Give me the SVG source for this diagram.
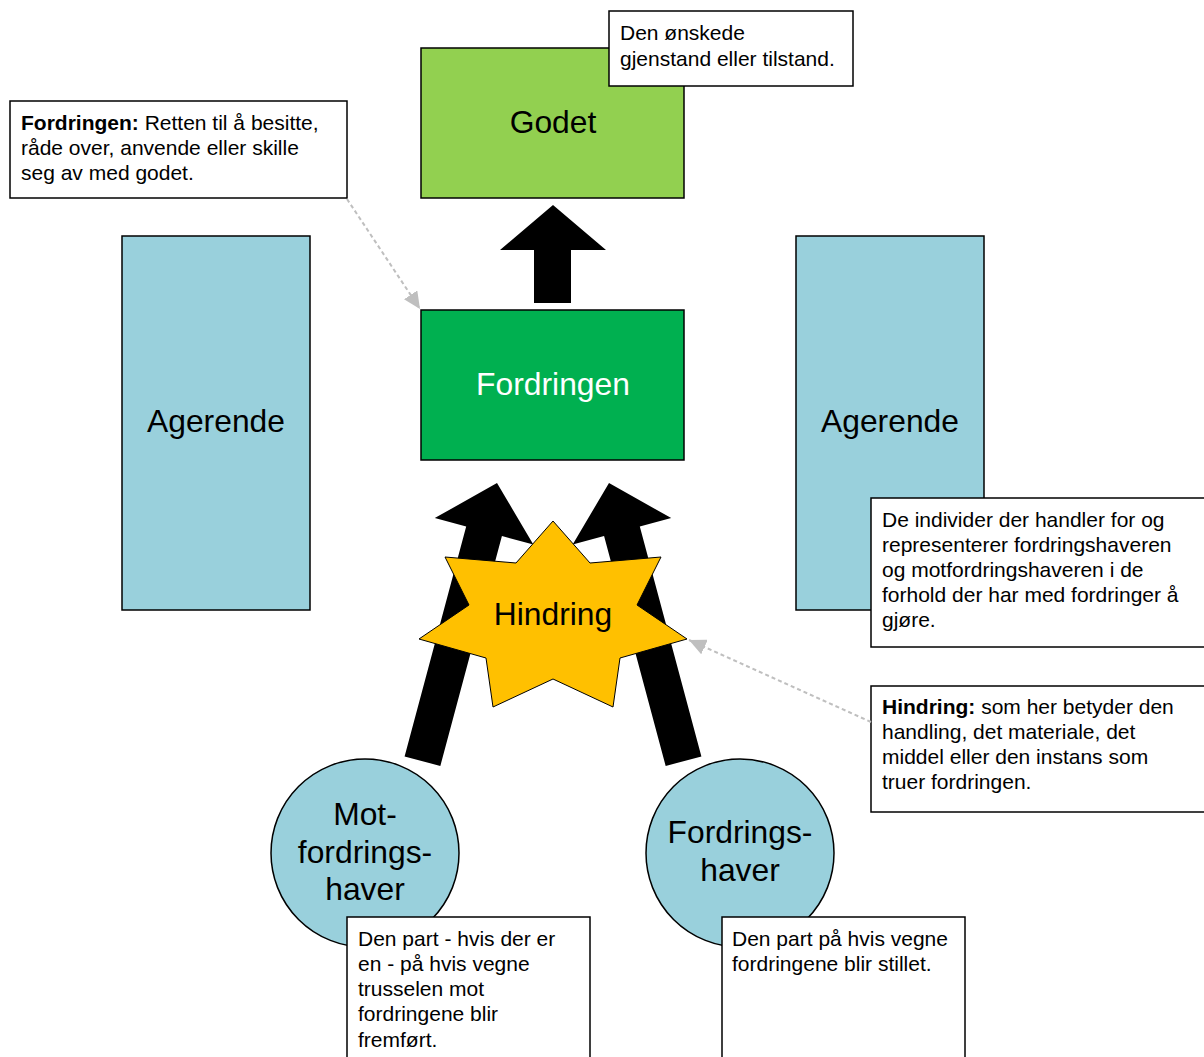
<svg xmlns="http://www.w3.org/2000/svg" width="1204" height="1057" viewBox="0 0 1204 1057">
<defs>
<marker id="ga" markerUnits="userSpaceOnUse" markerWidth="18" markerHeight="16" refX="17" refY="8" orient="auto">
<path d="M0,0 L17,8 L0,16 z" fill="#BFBFBF"/>
</marker>
<style>
.box{stroke:#000;stroke-width:1.5}
.blue{fill:#99D0DC}
.call{fill:#fff;stroke:#000;stroke-width:1.5}
.big{font-family:"Liberation Sans",Arial,sans-serif;font-size:31.8px;fill:#000;text-anchor:middle}
.sm{font-family:"Liberation Sans",Arial,sans-serif;font-size:21px;fill:#000}
.b{font-weight:bold}
.dash{fill:none;stroke:#BFBFBF;stroke-width:2;stroke-dasharray:4 3;marker-end:url(#ga)}
.arr{fill:#000}
</style>
</defs>
<rect width="1204" height="1057" fill="#fff"/>

<g id="agerende-left">
<rect class="box blue" x="122" y="236" width="188" height="374"/>
<text class="big" x="216" y="432">Agerende</text>
</g>
<g id="agerende-right">
<rect class="box blue" x="796" y="236" width="188" height="374"/>
<text class="big" x="890" y="432">Agerende</text>
</g>

<g id="godet">
<rect class="box" fill="#92D050" x="421" y="48" width="263" height="150"/>
<text class="big" x="553" y="133">Godet</text>
</g>
<g id="callout-godet">
<rect class="call" x="609" y="11" width="244" height="75"/>
<text class="sm" x="620" y="40">Den ønskede</text>
<text class="sm" x="620" y="66">gjenstand eller tilstand.</text>
</g>

<g id="fordringen">
<rect class="box" fill="#00B050" x="421" y="310" width="263" height="150"/>
<text class="big" x="553" y="395" style="fill:#fff">Fordringen</text>
</g>
<g id="callout-fordringen">
<rect class="call" x="10" y="101" width="337" height="97"/>
<text class="sm" x="21" y="130"><tspan class="b">Fordringen:</tspan> Retten til å besitte,</text>
<text class="sm" x="21" y="155">råde over, anvende eller skille</text>
<text class="sm" x="21" y="180">seg av med godet.</text>
</g>

<g id="arrows">
<polygon class="arr" points="553,205 606,250 571,250 571,303 534,303 534,250 500,250"/>
<polygon class="arr" transform="translate(497,483) rotate(15)" points="0,0 51,50 18.5,50 18.5,288 -18.5,288 -18.5,50 -51,50"/>
<polygon class="arr" transform="translate(609,483) rotate(-15)" points="0,0 51,50 18.5,50 18.5,288 -18.5,288 -18.5,50 -51,50"/>
</g>

<g id="hindring">
<polygon fill="#FFC000" stroke="#000" stroke-width="1" points="553,521 590,563 661,557 637,605 687,639 620,658 613,707 553,679 493,707 486,658 419,639 469,605 445,557 516,563"/>
<text class="big" x="553" y="625">Hindring</text>
</g>

<g id="motfordringshaver">
<circle class="box blue" cx="365" cy="853" r="94"/>
<text class="big" x="365" y="825">Mot-</text>
<text class="big" x="365" y="863">fordrings-</text>
<text class="big" x="365" y="900">haver</text>
</g>
<g id="fordringshaver">
<circle class="box blue" cx="740" cy="853" r="94"/>
<text class="big" x="740" y="843">Fordrings-</text>
<text class="big" x="740" y="881">haver</text>
</g>

<g id="callout-agerende">
<rect class="call" x="871" y="498" width="345" height="149"/>
<text class="sm" x="882" y="527">De individer der handler for og</text>
<text class="sm" x="882" y="552">representerer fordringshaveren</text>
<text class="sm" x="882" y="577">og motfordringshaveren i de</text>
<text class="sm" x="882" y="602">forhold der har med fordringer å</text>
<text class="sm" x="882" y="627">gjøre.</text>
</g>
<g id="callout-hindring">
<rect class="call" x="871" y="686" width="345" height="126"/>
<text class="sm" x="882" y="714"><tspan class="b">Hindring:</tspan> som her betyder den</text>
<text class="sm" x="882" y="739">handling, det materiale, det</text>
<text class="sm" x="882" y="764">middel eller den instans som</text>
<text class="sm" x="882" y="789">truer fordringen.</text>
</g>
<g id="callout-motfordringshaver">
<rect class="call" x="347" y="917" width="243" height="150"/>
<text class="sm" x="358" y="946">Den part - hvis der er</text>
<text class="sm" x="358" y="971">en - på hvis vegne</text>
<text class="sm" x="358" y="996">trusselen mot</text>
<text class="sm" x="358" y="1021">fordringene blir</text>
<text class="sm" x="358" y="1047">fremført.</text>
</g>
<g id="callout-fordringshaver">
<rect class="call" x="722" y="917" width="243" height="150"/>
<text class="sm" x="732" y="946">Den part på hvis vegne</text>
<text class="sm" x="732" y="971">fordringene blir stillet.</text>
</g>

<g id="connectors">
<path class="dash" d="M347,199 L420,309"/>
<path class="dash" d="M871,722 L689,640"/>
</g>
</svg>
